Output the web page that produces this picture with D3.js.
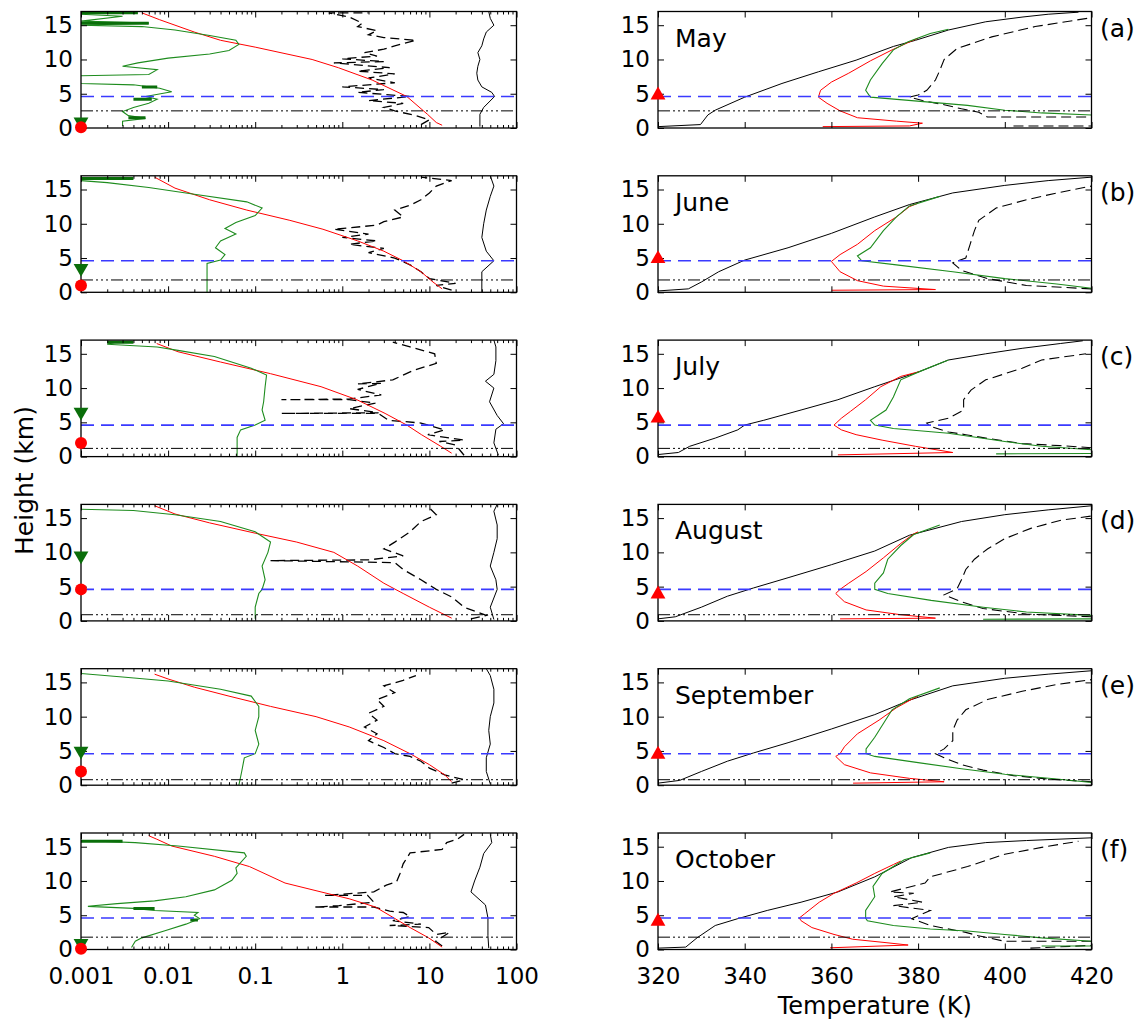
<!DOCTYPE html>
<html>
<head>
<meta charset="utf-8">
<script src="https://cdn.jsdelivr.net/npm/d3@7"></script>
<style>
  body { margin: 0; background: #fff; }
  text { font-family: "DejaVu Sans", "Liberation Sans", sans-serif; }
</style>
</head>
<body>
<div id="chart"></div>
<script>
// ---- data ----
const months = ["May", "June", "July", "August", "September", "October"];
const letters = ["(a)", "(b)", "(c)", "(d)", "(e)", "(f)"];
const logTicks = [0.001, 0.01, 0.1, 1, 10, 100];
const tempTicks = [320, 340, 360, 380, 400, 420];
const heightTicks = [0, 5, 10, 15];

const blueLevel = [4.6, 4.6, 4.6, 4.6, 4.6, 4.6];   // blue dashed line (km)
const mixLevel = [2.5, 1.8, 1.2, 0.9, 0.8, 1.8];    // dash-dot-dot line (km)
const greenTriL = [0.9, 3.5, 6.5, 9.5, 5.0, 0.9];   // green triangle, left panels
const redDotL = [0.1, 1.0, 2.0, 4.6, 2.0, 0.1];     // red dot, left panels
const redTriR = [4.8, 4.9, 5.6, 3.9, 4.5, 4.1];     // red triangle, right panels

// left panels: [value, height km]
const leftGreen = [
  [[0.003,0.3],[0.003,1.0],[0.0055,1.4],[0.0035,1.8],[0.003,2.4],[0.004,3.0],[0.006,3.6],[0.0075,4.2],[0.0055,4.6],[0.011,5.3],[0.008,5.8],[0.004,6.3],[0.001,6.5],[0.0008,7.6],[0.006,7.8],[0.0075,8.5],[0.003,9.0],[0.0045,9.5],[0.01,10.2],[0.03,10.8],[0.05,11.3],[0.065,12.2],[0.06,12.8],[0.03,13.5],[0.012,14.3],[0.005,14.8],[0.001,15.0],[0.006,15.3],[0.001,15.6],[0.003,16.3],[0.001,16.6]],
  [[0.028,0],[0.028,4.2],[0.04,4.7],[0.045,5.5],[0.035,6.5],[0.04,7.5],[0.06,8.5],[0.045,9.3],[0.06,10.2],[0.1,11.2],[0.12,12.3],[0.08,13.2],[0.02,14.3],[0.006,15.3],[0.002,16.0],[0.001,16.3]],
  [[0.062,0],[0.062,2.8],[0.068,3.9],[0.1,4.6],[0.13,5.3],[0.12,6.8],[0.125,8],[0.13,10.2],[0.135,11.9],[0.09,12.9],[0.034,14.6],[0.013,15.5],[0.0075,16],[0.002,16.4],[0.0025,16.7]],
  [[0.1,0.3],[0.1,2],[0.11,4],[0.12,4.6],[0.13,6],[0.12,8],[0.14,10],[0.15,11.5],[0.1,13],[0.04,14.5],[0.012,15.5],[0.004,16.1],[0.001,16.3]],
  [[0.065,0],[0.07,2],[0.075,4],[0.1,4.6],[0.11,6],[0.1,8],[0.11,10],[0.11,11.5],[0.09,13],[0.04,14],[0.01,15.2],[0.003,15.8],[0.001,16.3]],
  [[0.0038,0.3],[0.0042,1.2],[0.005,1.7],[0.009,2.7],[0.016,3.7],[0.023,4.5],[0.02,5],[0.022,5.4],[0.007,5.7],[0.004,6.0],[0.0012,6.3],[0.0026,6.7],[0.007,7.1],[0.016,7.7],[0.034,8.7],[0.054,10.1],[0.062,11.1],[0.06,11.9],[0.079,13.6],[0.075,14.1],[0.013,15.1],[0.0042,15.6],[0.001,15.9]]
];
// dark green thick bits on the left panels: [from, to, height km]
const leftGreenThick = [
  [[0.001,0.0045,16.8],[0.001,0.006,15.3],[0.0035,0.0055,1.5],[0.005,0.0075,6.0],[0.004,0.0065,4.2]],
  [[0.001,0.004,16.6]],
  [[0.002,0.004,16.7]],
  [],
  [],
  [[0.001,0.003,15.8],[0.004,0.007,6.0],[0.018,0.022,4.3]]
];
const leftRed = [
  [[14,0.4],[12,0.8],[9.5,2],[5.5,4.6],[2.2,7],[0.9,8.8],[0.45,10],[0.1,11.8],[0.04,12.8],[0.02,14],[0.008,15.8],[0.005,16.8]],
  [[14,0.5],[11,1.5],[8,3],[5,4.6],[3,6],[1.5,7.5],[0.6,9.2],[0.25,10.5],[0.08,12],[0.03,13.5],[0.012,15.2],[0.007,16.8]],
  [[18,0.5],[13.5,1.5],[8.1,3.2],[5.5,4.6],[3.1,6.3],[1.47,8.3],[0.57,10.2],[0.15,12.1],[0.04,13.8],[0.013,15.3],[0.0074,16.5]],
  [[18,0.4],[10,2],[5,4],[3,5.5],[1.5,8],[0.8,10],[0.3,11.5],[0.1,12.8],[0.03,14.3],[0.012,15.6],[0.007,16.8]],
  [[18,0.5],[15,1.5],[10,3],[6,4.6],[3,6.5],[1.2,8.5],[0.5,10],[0.15,11.5],[0.05,13],[0.02,14.3],[0.01,15.5],[0.007,16.2]],
  [[14,0.35],[9.8,1.7],[6,3.2],[3.8,4.7],[2.4,6.2],[1.2,7.4],[0.57,8.4],[0.22,9.7],[0.086,12.1],[0.034,13.6],[0.011,15.1],[0.0074,16.1],[0.006,16.6]]
];
const leftDash = [
  [[8,0.5],[10,1.2],[7,1.8],[4,2.5],[3,3.0],[5,3.6],[2,4.0],[6,4.6],[1.5,5.2],[3,5.6],[1,6.0],[4,6.6],[2,7.3],[4,7.9],[1.5,8.3],[3.5,8.8],[0.8,9.5],[3,9.7],[1,10.1],[2.5,10.5],[1.8,11.0],[3,11.5],[4,12.0],[7,12.8],[3,13.2],[2,13.6],[2.5,14.2],[1.5,14.8],[1.7,15.3],[1.2,16.2],[0.7,16.8],[2,16.8]],
  [[18,0.3],[12,1.0],[20,1.3],[10,2],[8,3],[6,4],[4,5],[2,5.8],[3,6.4],[1.2,7],[2.5,7.5],[1,8],[2,8.5],[0.8,9.2],[2.5,9.8],[3,10.3],[5,11],[4,12],[6,12.7],[8,13.5],[10,14.5],[12,15.5],[18,16.3],[8,16.8]],
  [[25,0.2],[20,1.7],[13,2.2],[25,2.4],[9.6,3.2],[15,3.9],[8,4.9],[3.4,5.3],[2.6,6.3],[0.2,6.3],[2.6,6.4],[1.2,7],[2.4,7.8],[1.2,8.3],[0.2,8.3],[1.2,8.4],[2.8,9],[1.5,9.8],[2.8,10.7],[1.5,10.6],[3.8,11.2],[6.6,12.6],[12,13.6],[11.5,15],[6,16],[3.8,16.7]],
  [[30,0.3],[45,0.8],[25,2],[18,3.5],[12,4.6],[8,6],[5,7.5],[4,8.5],[0.15,8.8],[2,8.9],[5,9.5],[3,10.5],[4,11.5],[6,13],[8,14.5],[12,15.5],[10,16.5]],
  [[18,0.3],[25,0.8],[15,1.5],[10,2.5],[8,3.5],[6,4.2],[4,4.6],[3,5.5],[2,6.5],[2.5,7.5],[1.8,8.5],[2.5,9.5],[2,10.5],[3,11.5],[2.5,12.5],[4,13.5],[3,14.5],[5,15.3],[7,16]],
  [[14,0.5],[11.8,1.2],[17,2.5],[12,2.2],[9.8,3.2],[3.5,3.5],[8,3.7],[3.8,4.2],[6,4.8],[5,5.4],[3.5,5.6],[2.3,6.2],[0.48,6.2],[0.92,6.4],[2.3,6.9],[1.95,7.9],[0.63,7.9],[2.3,8.4],[3.2,9.4],[4.2,9.9],[4.6,11.1],[5,12.5],[6,14.1],[14,14.6],[15.8,15.6],[21,16.1],[25,16.8]]
];
const leftSolid = [
  [[38,0.2],[38,2],[42,3],[56,4.6],[52,5.2],[40,6],[36,7],[35,8],[36,9],[38,10],[36,11],[40,12],[42,13],[45,14],[55,15],[50,16],[48,17]],
  [[40,0],[40,3],[55,4.6],[45,6],[40,8],[42,10],[45,12],[50,14],[55,15.5],[50,17]],
  [[62,0.2],[55,2],[58,4],[71,4.8],[60,6],[49,8],[55,10],[44,11],[55,12],[58,14],[58,16],[55,17]],
  [[55,0.2],[50,2],[60,4.6],[58,6],[50,8],[55,10],[60,12],[60,14],[55,16],[60,17]],
  [[50,0.2],[45,2],[45,4],[50,6],[48,8],[50,10],[55,12],[55,14],[50,16],[45,17]],
  [[48,0.2],[47,2],[47,4.6],[44,6.5],[30,8.4],[33,10],[38,12],[42,14],[52,15.6],[50,16.8]]
];

// right panels: [temperature K, height km]; null breaks a line
const rightSolid = [
  [[320,0.2],[329.8,0.5],[331.5,1.9],[333.2,2.6],[340,4.5],[348.6,6.5],[357,8.2],[365.7,9.9],[374.3,11.9],[379.4,12.8],[387,14.3],[395.6,15.5],[404.2,16.2],[410,16.6],[417,16.9]],
  [[320,0.2],[327,0.5],[330,1.5],[334,3],[340,4.7],[350,6.5],[360,8.6],[370,11],[378,12.8],[388,14.5],[400,15.6],[410,16.3],[420,16.8]],
  [[320,0.3],[324.7,0.6],[327.3,1.5],[333.2,2.7],[338.4,3.9],[340,4.6],[344.4,5.3],[353,6.8],[361.5,8.3],[370,10.2],[380.3,12.4],[387,14.1],[395.6,15],[404,15.8],[412.8,16.5],[418,16.9]],
  [[320,0.3],[324,0.6],[330,2],[336,3.6],[342,4.8],[350,6.3],[360,8.2],[370,10.2],[378,12.5],[390,14.5],[400,15.5],[410,16.2],[420,16.8]],
  [[320,0.3],[325,0.7],[330,2],[336,3.5],[342,4.7],[350,6.2],[360,8.2],[370,10.3],[378,12.4],[388,14.5],[400,15.6],[410,16.2],[420,16.7]],
  [[320,0.2],[326.4,0.35],[329,1.7],[333.2,3.5],[338.4,4.5],[345.2,5.7],[353,6.9],[361.5,8.4],[370,10.6],[378.5,13.4],[387,14.9],[395.6,15.6],[405,15.9],[420,16.3]]
];
const rightRed = [
  [[358,0.2],[378,0.3],[381,0.7],[375,1.0],[366,1.5],[362,2.5],[359,3.6],[357,4.5],[357.5,5.5],[360,6.7],[364,8.0],[369,9.8],[374,11.4],[378.5,12.7],[380,13.1]],
  [[360,0.3],[384,0.4],[372,0.9],[366,1.7],[362,3],[360,4.5],[362,5.5],[366,7],[370,9],[375,11],[378,12.5],[380,13]],
  [[361.5,0.25],[388,0.6],[379.4,1.5],[371.7,2.4],[365.7,3.2],[362.3,3.9],[360.6,4.6],[362.3,5.6],[364.4,6.6],[367.9,8.3],[371.4,10.2],[376,11.7],[380.3,12.4]],
  [[362,0.3],[384,0.4],[376,0.9],[368,1.6],[363,2.8],[361,4],[362,4.6],[364,5.5],[368,7.2],[372,9.2],[376,11.3],[379,12.7],[380,13]],
  [[365,0.3],[386,0.5],[378,1],[369,1.8],[363,3],[361,4.2],[362,4.6],[363,5.6],[366,7.5],[371,9.5],[375,11.3],[379,12.7],[380,13]],
  [[359.7,0.25],[377.7,0.65],[372.6,1.0],[364.9,1.5],[360.6,2.2],[355.5,3.2],[353,4.2],[352.6,4.6],[353.8,5.2],[357.2,6.9],[360.6,8.2],[365.7,9.7],[370,11.1],[374.3,12.4],[376,12.9]]
];
const rightGreen = [
  [[420,1.9],[408.5,2.2],[400,2.6],[391.4,3.3],[378.5,4.0],[369,4.5],[367.9,5.5],[369,7],[371.7,9.4],[374.3,11.4],[377.7,12.6],[382.8,13.8],[387,14.4]],
  [[420,0.6],[412,1.2],[400,2],[388,3],[375,4],[367,4.6],[366,5.3],[369,6.5],[372,9],[375,11],[378,12.6],[385,14]],
  [[398,0.4],[420,0.45],null,[420,1.0],[408.5,1.5],[400,2.2],[387,3.4],[374.3,4.1],[370,4.6],[369,5.3],[372.6,6.8],[374.3,8.7],[376,11.2],[380.3,12.4],[387,14.1]],
  [[395,0.25],[420,0.3],null,[420,0.8],[405,1.3],[395,2],[383,3],[373,4],[370,4.6],[370,5.5],[372,7],[373,9],[376,11],[379,12.6],[385,14]],
  [[420,0.4],[412,0.9],[400,1.6],[390,2.4],[380,3.3],[370,4.2],[368,4.6],[368,5.3],[370,7],[372,9],[374,11],[378,12.6],[385,14.2]],
  [[408.5,0.5],[420,0.5],null,[420,1.2],[408.5,1.7],[400,2.2],[391.4,2.7],[382.8,3.0],[374.3,3.5],[368.3,4.2],[367.9,4.6],[367.9,5.7],[370,7.7],[369.6,9.2],[371.7,11.1],[376.8,13.1],[382.8,14.1]]
];
const rightDash = [
  [[419,16],[407,14.8],[397,13.3],[389,11.6],[386,10],[385,8.4],[384,7],[382,5.5],[380,4.8],[378,4.5],[381,4.0],[386,3.4],[390,2.8],[394,2.3],[396,1.6],[420,1.6],null,[402,0.3],[420,0.3]],
  [[420,0.5],[405,1],[396,2],[390,3.2],[388,4.3],[391,5],[392,7],[393,9],[394,10.5],[398,12.3],[405,13.5],[412,14.5],[420,15.5]],
  [[420,1.3],[412.7,1.6],[404,1.9],[395.6,2.7],[391,3.2],[387,3.6],[382.8,4.4],[382,4.9],[387,5.6],[390.5,6.8],[390.5,8.3],[392.2,9.7],[395.6,11.2],[404,12.9],[408.5,14.1],[418.7,15]],
  [[420,0.6],[405,1.0],[395,1.8],[390,2.8],[386,3.8],[389,4.7],[390,6],[391,7.5],[393,9],[396,10.5],[400,12],[406,13.5],[413,14.7],[420,15.3]],
  [[420,0.5],[410,0.9],[402,1.4],[395,2.2],[390,3],[386,4],[384,4.6],[386,5.3],[388,6.5],[388,8],[389,9.5],[391,11],[396,12.5],[404,13.7],[412,14.7],[420,15.4]],
  [[405.9,0.2],[420,0.6],null,[420,1.2],[400,1.2],[393.9,2.0],[391,2.5],[382.8,3.5],[378.5,4.5],[382.8,5.7],[374.3,6.4],[381,6.9],[374.3,7.7],[379,8.2],[373.5,8.4],[381.6,9.7],[382.8,10.6],[391.4,12.1],[400,13.9],[408.5,14.9],[417,15.8]]
];

// ---- layout ----
const W = 1141, H = 1019;
const rowTop = i => 11.5 + 164.3 * i;
const rowH = 116.5;
const FONT = 23;
const GREEN = "#1e8c1e", DARKGREEN = "#0a6e0a", RED = "#ff0000", BLUE = "#3a3aff";

const svg = d3.select("#chart").append("svg")
  .attr("width", W)
  .attr("height", H);

const xLog = d3.scaleLog().domain([0.001, 100]).range([81, 516.5]);
const xT = d3.scaleLinear().domain([320, 420]).range([658, 1091.5]);

function styleAxis(g) {
  g.select(".domain").remove();
  g.selectAll("line").attr("stroke", "#000").attr("stroke-width", 1);
  g.selectAll("text").attr("font-size", FONT).attr("font-family", "DejaVu Sans").attr("fill", "#000");
}

function drawPanel(i, x, isLog) {
  const y = d3.scaleLinear().domain([0, 17]).range([rowTop(i) + rowH, rowTop(i)]);
  const [x0, x1] = x.range();
  const last = i === months.length - 1;
  const id = `clip-${isLog ? "l" : "r"}${i}`;

  svg.append("clipPath").attr("id", id)
    .append("rect")
    .attr("x", x0).attr("y", y(17))
    .attr("width", x1 - x0).attr("height", y(0) - y(17));

  const g = svg.append("g").attr("clip-path", `url(#${id})`);
  const line = d3.line()
    .defined(d => d !== null)
    .x(d => x(d[0]))
    .y(d => y(d[1]));

  const series = isLog
    ? [
        { data: leftDash[i], color: "#000", dash: "9,5", w: 1.3 },
        { data: leftSolid[i], color: "#000", dash: null, w: 1 },
        { data: leftRed[i], color: RED, dash: null, w: 1 },
        { data: leftGreen[i], color: GREEN, dash: null, w: 1.1 }
      ]
    : [
        { data: rightDash[i], color: "#000", dash: "10,5", w: 1.1 },
        { data: rightSolid[i], color: "#000", dash: null, w: 1 },
        { data: rightRed[i], color: RED, dash: null, w: 1 },
        { data: rightGreen[i], color: GREEN, dash: null, w: 1.1 }
      ];

  series.forEach(s => {
    g.append("path")
      .datum(s.data)
      .attr("fill", "none")
      .attr("stroke", s.color)
      .attr("stroke-width", s.w)
      .attr("stroke-dasharray", s.dash)
      .attr("d", line);
  });

  if (isLog) {
    g.selectAll(".thick")
      .data(leftGreenThick[i])
      .join("line")
      .attr("x1", d => x(d[0])).attr("x2", d => x(d[1]))
      .attr("y1", d => y(d[2])).attr("y2", d => y(d[2]))
      .attr("stroke", DARKGREEN).attr("stroke-width", 3);
  }

  // reference levels
  g.append("line")
    .attr("x1", x0).attr("x2", x1)
    .attr("y1", y(blueLevel[i])).attr("y2", y(blueLevel[i]))
    .attr("stroke", BLUE).attr("stroke-width", 1.6)
    .attr("stroke-dasharray", "13,7");
  g.append("line")
    .attr("x1", x0).attr("x2", x1)
    .attr("y1", y(mixLevel[i])).attr("y2", y(mixLevel[i]))
    .attr("stroke", "#000").attr("stroke-width", 1)
    .attr("stroke-dasharray", "12,3,2,3,2,3,2,3");

  // axes: ticks point inward
  const bottom = svg.append("g").attr("transform", `translate(0,${y(0)})`);
  const top = svg.append("g").attr("transform", `translate(0,${y(17)})`);
  if (isLog) {
    const minor = x.ticks().filter(v => !logTicks.includes(v));
    bottom.append("g").call(d3.axisBottom(x).tickValues(minor).tickSize(-3).tickFormat("")).call(styleAxis);
    top.append("g").call(d3.axisTop(x).tickValues(minor).tickSize(-3).tickFormat("")).call(styleAxis);
  }
  const ticksX = isLog ? logTicks : tempTicks;
  const fmt = isLog ? d => (d < 1 ? String(d) : d3.format("d")(d)) : d3.format("d");
  bottom.append("g")
    .call(d3.axisBottom(x).tickValues(ticksX).tickSize(-6).tickPadding(18).tickFormat(last ? fmt : ""))
    .call(styleAxis);
  top.append("g")
    .call(d3.axisTop(x).tickValues(ticksX).tickSize(-6).tickFormat(""))
    .call(styleAxis);

  svg.append("g").attr("transform", `translate(${x0},0)`)
    .call(d3.axisLeft(y).tickValues(heightTicks).tickSize(-6).tickPadding(8))
    .call(styleAxis);
  svg.append("g").attr("transform", `translate(${x1},0)`)
    .call(d3.axisRight(y).tickValues(heightTicks).tickSize(-6).tickFormat(""))
    .call(styleAxis);

  svg.append("rect")
    .attr("x", x0).attr("y", y(17))
    .attr("width", x1 - x0).attr("height", y(0) - y(17))
    .attr("fill", "none").attr("stroke", "#000").attr("stroke-width", 1.3);

  // markers on the left edge
  if (isLog) {
    svg.append("path")
      .attr("d", d3.symbol(d3.symbolTriangle, 95)())
      .attr("transform", `translate(${x0},${y(greenTriL[i])}) rotate(180)`)
      .attr("fill", DARKGREEN);
    svg.append("circle")
      .attr("cx", x0).attr("cy", y(redDotL[i])).attr("r", 6)
      .attr("fill", RED);
  } else {
    svg.append("path")
      .attr("d", d3.symbol(d3.symbolTriangle, 95)())
      .attr("transform", `translate(${x0},${y(redTriR[i])})`)
      .attr("fill", RED);
    svg.append("text")
      .attr("x", 675).attr("y", rowTop(i) + 35)
      .attr("font-size", 25)
      .text(months[i]);
    svg.append("text")
      .attr("x", 1100).attr("y", rowTop(i) + 25)
      .attr("font-size", 25)
      .text(letters[i]);
  }
}

months.forEach((m, i) => {
  drawPanel(i, xLog, true);
  drawPanel(i, xT, false);
});

svg.append("text")
  .attr("transform", `translate(33,${(rowTop(0) + rowTop(5) + rowH) / 2}) rotate(-90)`)
  .attr("text-anchor", "middle")
  .attr("font-size", 25)
  .text("Height (km)");

svg.append("text")
  .attr("x", (xT.range()[0] + xT.range()[1]) / 2)
  .attr("y", 1014)
  .attr("text-anchor", "middle")
  .attr("font-size", 24)
  .text("Temperature (K)");
</script>
</body>
</html>
